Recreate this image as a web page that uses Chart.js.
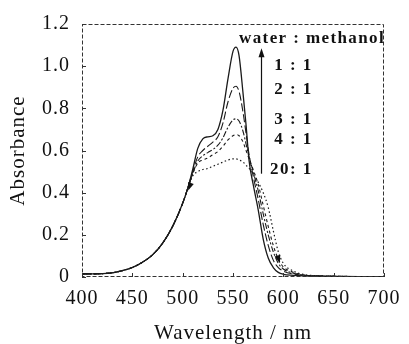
<!DOCTYPE html>
<html>
<head>
<meta charset="utf-8">
<script src="https://cdn.jsdelivr.net/npm/chart.js@4/dist/chart.umd.min.js"></script>
<style>
html,body{margin:0;padding:0;background:#fff;}
#c{display:block;}
</style>
</head>
<body>
<canvas id="c" width="409" height="344"></canvas>
<script>
// ---- data ----
const wavelengths = [400,410,420,430,440,450,460,470,480,490,500,505,510,515,520,525,530,535,540,545,550,553,556,560,563,566,570,575,580,585,590,595,600,610,620,630,650,675,700];
const ratio1to1  = [0.015,0.015,0.016,0.02,0.03,0.045,0.07,0.105,0.16,0.24,0.35,0.42,0.51,0.61,0.655,0.665,0.67,0.70,0.79,0.94,1.07,1.09,1.05,0.87,0.72,0.55,0.44,0.32,0.18,0.09,0.045,0.022,0.013,0.008,0.005,0.004,0.003,0.002,0.002];
const ratio2to1  = [0.015,0.015,0.016,0.02,0.03,0.045,0.07,0.105,0.16,0.24,0.35,0.42,0.50,0.57,0.60,0.62,0.64,0.665,0.73,0.83,0.895,0.905,0.88,0.78,0.68,0.58,0.48,0.37,0.25,0.15,0.08,0.045,0.028,0.014,0.008,0.005,0.003,0.002,0.002];
const ratio3to1  = [0.015,0.015,0.016,0.02,0.03,0.045,0.07,0.105,0.16,0.24,0.35,0.42,0.49,0.55,0.575,0.59,0.605,0.625,0.66,0.71,0.745,0.75,0.74,0.69,0.63,0.57,0.50,0.41,0.30,0.20,0.12,0.065,0.038,0.018,0.009,0.006,0.003,0.002,0.002];
const ratio4to1  = [0.015,0.015,0.016,0.02,0.03,0.045,0.07,0.105,0.16,0.24,0.35,0.42,0.49,0.54,0.555,0.565,0.58,0.595,0.62,0.65,0.67,0.675,0.67,0.64,0.60,0.56,0.51,0.44,0.34,0.24,0.15,0.085,0.048,0.022,0.01,0.006,0.004,0.002,0.002];
const ratio20to1 = [0.015,0.015,0.016,0.02,0.03,0.045,0.07,0.105,0.16,0.24,0.35,0.42,0.48,0.50,0.51,0.515,0.525,0.535,0.545,0.555,0.56,0.56,0.555,0.545,0.53,0.515,0.49,0.45,0.40,0.33,0.22,0.12,0.065,0.028,0.012,0.007,0.004,0.002,0.002];
const ratioLabels = ['1 : 1','2 : 1','3 : 1','4 : 1','20: 1'];
const legendTitle = 'water : methanol';
const xTicks = [400,450,500,550,600,650,700];
const yTicks = [0,0.2,0.4,0.6,0.8,1.0,1.2];

const FONT = "'Liberation Serif','Times New Roman',serif";
const seriesValues = [ratio1to1, ratio2to1, ratio3to1, ratio4to1, ratio20to1];
const dashes = [[], [8,3], [6,2,2,2], [3,3], [1.5,2.5]];
const widths = [1.3, 1.1, 1.1, 1.1, 1.2];

const datasets = seriesValues.map((vals, i) => ({
  label: ratioLabels[i],
  data: wavelengths.map((w, j) => ({x: w, y: vals[j]})),
  borderColor: '#1a1a1a',
  borderWidth: widths[i],
  borderDash: dashes[i],
  pointRadius: 0,
  fill: false,
  cubicInterpolationMode: 'monotone'
}));

const decorPlugin = {
  id: 'decor',
  beforeDraw(chart) { chart.ctx.letterSpacing = '1px'; },
  afterDatasetsDraw(chart) {
    const ctx = chart.ctx;
    const xs = chart.scales.x, ys = chart.scales.y;
    const a = chart.chartArea;
    ctx.save();
    ctx.letterSpacing = '0px';
    // frame (dashed, like the scan)
    ctx.strokeStyle = '#333';
    ctx.lineWidth = 1;
    ctx.setLineDash([4, 2]);
    ctx.strokeRect(a.left + 0.5, a.top + 0.5, a.right - a.left - 1, a.bottom - a.top - 1);
    ctx.setLineDash([]);
    // inward ticks
    ctx.beginPath();
    yTicks.forEach(v => { const py = Math.round(ys.getPixelForValue(v)) + 0.5; ctx.moveTo(a.left, py); ctx.lineTo(a.left + 4, py); });
    xTicks.forEach(v => { const px = Math.round(xs.getPixelForValue(v)) + 0.5; ctx.moveTo(px, a.bottom); ctx.lineTo(px, a.bottom - 4); });
    ctx.stroke();

    // vertical arrow (increasing water fraction -> upward)
    const ax = Math.round(xs.getPixelForValue(578)) + 0.5;
    const ay0 = ys.getPixelForValue(0.49), ay1 = ys.getPixelForValue(1.085);
    ctx.strokeStyle = '#111';
    ctx.lineWidth = 1.2;
    ctx.beginPath(); ctx.moveTo(ax, ay0); ctx.lineTo(ax, ay1 + 6); ctx.stroke();
    ctx.fillStyle = '#111';
    ctx.beginPath(); ctx.moveTo(ax, ay1); ctx.lineTo(ax - 3, ay1 + 9); ctx.lineTo(ax + 3, ay1 + 9); ctx.closePath(); ctx.fill();

    // small arrowheads on the curves
    function head(nm, val, ang) {
      const px = xs.getPixelForValue(nm), py = ys.getPixelForValue(val);
      ctx.save(); ctx.translate(px, py); ctx.rotate(ang);
      ctx.beginPath(); ctx.moveTo(0, 0); ctx.lineTo(-3, -8); ctx.lineTo(3, -8); ctx.closePath(); ctx.fill();
      ctx.restore();
    }
    head(505.5, 0.41, 0.35);
    head(596.5, 0.065, -0.3);

    // legend text
    ctx.letterSpacing = '1.4px';
    ctx.fillStyle = '#111';
    ctx.textBaseline = 'middle';
    ctx.font = 'bold 17px ' + FONT;
    ctx.textAlign = 'left';
    ctx.fillText(legendTitle, xs.getPixelForValue(556), ys.getPixelForValue(1.13));
    ctx.textAlign = 'right';
    const labelLevels = [1.003, 0.891, 0.745, 0.652, 0.511];
    ratioLabels.forEach((t, i) => ctx.fillText(t, xs.getPixelForValue(629), ys.getPixelForValue(labelLevels[i])));
    ctx.restore();
  }
};

new Chart(document.getElementById('c'), {
  type: 'line',
  data: { datasets },
  plugins: [decorPlugin],
  options: {
    responsive: false,
    animation: false,
    layout: { padding: { left: 0, right: 20, top: 20, bottom: 0 } },
    plugins: { legend: { display: false }, tooltip: { enabled: false } },
    scales: {
      x: {
        type: 'linear', min: 400, max: 700,
        afterBuildTicks(s) { s.ticks = xTicks.map(v => ({ value: v })); },
        ticks: { padding: 10, color: '#111', maxRotation: 0, autoSkip: false, font: { family: FONT, size: 20 } },
        grid: { display: false, drawTicks: false },
        border: { display: false },
        title: { display: true, text: 'Wavelength / nm', color: '#111', font: { family: FONT, size: 21, lineHeight: 1 }, padding: { top: 0, bottom: 0 } },
        afterFit(s) { s.height = 67; }
      },
      y: {
        type: 'linear', min: 0, max: 1.2,
        afterBuildTicks(s) { s.ticks = yTicks.map(v => ({ value: v })); },
        ticks: { padding: 12, color: '#111', font: { family: FONT, size: 20 }, callback: v => v === 0 ? '0' : v.toFixed(1) },
        grid: { display: false, drawTicks: false },
        border: { display: false },
        title: { display: true, text: 'Absorbance', color: '#111', font: { family: FONT, size: 21, lineHeight: 1 }, padding: { top: 8, bottom: 0 } },
        afterFit(s) { s.width = 82; }
      }
    }
  }
});
</script>
</body>
</html>
